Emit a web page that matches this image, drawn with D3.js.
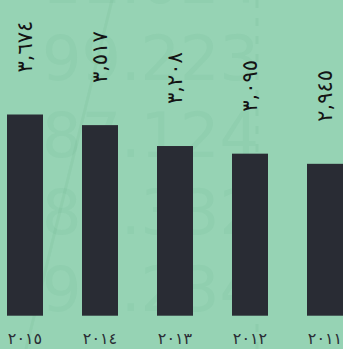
<!DOCTYPE html>
<html>
<head>
<meta charset="utf-8">
<script src="https://cdn.jsdelivr.net/npm/d3@7"></script>
<style>
  html, body { margin: 0; padding: 0; background: #96d3b4; overflow: hidden; }
  svg { display: block; }
</style>
</head>
<body>
<div id="chart-area"></div>
<script>

// Data
var years = [2015, 2014, 2013, 2012, 2011];
var values = [3674, 3517, 3208, 3095, 2945];
var watermarks = ["11.024", "99.223", "87.124", "88.332", "99.234"];

var width = 343,
    height = 349;

var svg = d3.select("#chart-area").append("svg")
    .attr("width", width)
    .attr("height", height);

// Arabic-Indic digits
var digits = "٠١٢٣٤٥٦٧٨٩";
function arabic(n, group) {
    var s = String(n);
    if (group) s = s.replace(/\B(?=(\d{3})+(?!\d))/g, ",");
    return s.replace(/\d/g, d => digits[+d]);
}

// Background decoration
var bg = svg.append("g").attr("class", "watermark");

bg.selectAll("text")
    .data(watermarks)
    .join("text")
    .attr("x", 42)
    .attr("y", (d, i) => 3 + i * 77)
    .attr("font-family", "DejaVu Sans, sans-serif")
    .attr("font-size", 62)
    .attr("fill", "#4a9a72")
    .attr("fill-opacity", 0.07)
    .text(d => d);

bg.append("line")
    .attr("x1", 112).attr("y1", 0)
    .attr("x2", 26).attr("y2", height)
    .attr("stroke", "#4a9a72")
    .attr("stroke-opacity", 0.09)
    .attr("stroke-width", 3);

bg.append("line")
    .attr("x1", 257).attr("y1", 0)
    .attr("x2", 257).attr("y2", height)
    .attr("stroke", "#4a9a72")
    .attr("stroke-opacity", 0.1)
    .attr("stroke-width", 3)
    .attr("stroke-dasharray", "8,10");

// Scales
var x = d3.scaleBand()
    .domain(years)
    .range([7, 343])
    .paddingInner(0.52)
    .paddingOuter(0);

var y = d3.scaleLinear()
    .domain([700, 3674])
    .range([315.7, 114.5]);

// Bars
svg.selectAll(".bar")
    .data(values)
    .join("rect")
    .attr("class", "bar")
    .attr("x", (d, i) => x(years[i]))
    .attr("y", d => y(d))
    .attr("width", x.bandwidth())
    .attr("height", d => y.range()[0] - y(d))
    .attr("fill", "#292c34");

// Value labels
svg.selectAll(".value")
    .data(values)
    .join("text")
    .attr("class", "value")
    .attr("transform", (d, i) =>
        `translate(${x(years[i]) + x.bandwidth() / 2}, ${y(d) - 42}) rotate(-90)`)
    .attr("dominant-baseline", "central")
    .attr("font-family", "DejaVu Sans, sans-serif")
    .attr("font-size", 21)
    .attr("fill", "#141414")
    .text(d => arabic(d, true));

// Year labels
var xAxis = d3.axisBottom(x)
    .tickSize(0)
    .tickPadding(0)
    .tickFormat(d => arabic(d, false));

svg.append("g")
    .attr("class", "x-axis")
    .attr("transform", "translate(0, 333)")
    .call(xAxis)
    .call(g => g.select(".domain").remove())
    .selectAll("text")
    .attr("font-family", "DejaVu Sans, sans-serif")
    .attr("font-size", 16)
    .attr("fill", "#2a2d35");

</script>
</body>
</html>
